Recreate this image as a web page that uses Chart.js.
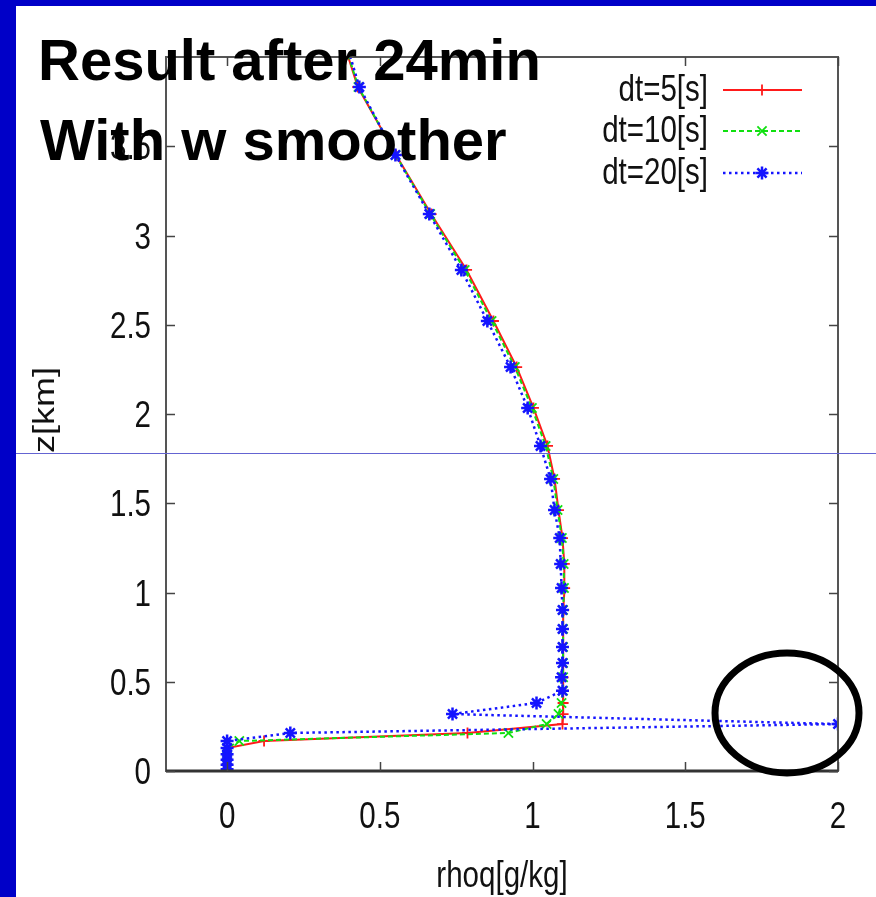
<!DOCTYPE html>
<html>
<head>
<meta charset="utf-8">
<script src="https://cdn.jsdelivr.net/npm/chart.js@4.4.1/dist/chart.umd.min.js"></script>
<style>
    html, body { margin: 0; padding: 0; background: #0000c8; }
    #wrap { width: 876px; height: 897px; }
</style>
</head>
<body>
<div id="wrap"><canvas id="profileChart" width="876" height="897"></canvas></div>
<script>
// model levels (km) and rhoq (g/kg) profiles after 24 min
const zLevels = [0.01, 0.035, 0.063, 0.094, 0.129, 0.168, 0.213, 0.263, 0.319, 0.381,
                 0.45, 0.525, 0.605, 0.695, 0.796, 0.902, 1.025, 1.16, 1.305, 1.462,
                 1.636, 1.821, 2.034, 2.263, 2.521, 2.807, 3.12, 3.451, 3.832, 4.25];
const rhoqDt5 = [0, 0, 0, 0, 0, 0.121, 0.787, 1.098, 1.1, 1.1,
                 1.1, 1.1, 1.1, 1.1, 1.1, 1.102, 1.105, 1.104, 1.098, 1.085,
                 1.072, 1.049, 1.003, 0.948, 0.872, 0.784, 0.668, 0.553, 0.428, 0.35];
const rhoqDt10 = [0, 0, 0, 0, 0, 0.04, 0.921, 1.046, 1.085, 1.095,
                  1.1, 1.1, 1.1, 1.1, 1.1, 1.1, 1.103, 1.102, 1.096, 1.082,
                  1.068, 1.043, 0.998, 0.942, 0.866, 0.778, 0.665, 0.552, 0.43, 0.352];
const rhoqDt20 = [0, 0, 0, 0, 0, 0, 0.207, 2.0, 0.738, 1.013,
                  1.098, 1.095, 1.098, 1.098, 1.098, 1.098, 1.095, 1.092, 1.089, 1.072,
                  1.059, 1.026, 0.984, 0.928, 0.852, 0.767, 0.662, 0.551, 0.433, 0.36];
const seriesLabels = ['dt=5[s]', 'dt=10[s]', 'dt=20[s]'];
const xTicks = [0, 0.5, 1, 1.5, 2];
const yTicks = [0, 0.5, 1, 1.5, 2, 2.5, 3, 3.5];
const xTitle = 'rhoq[g/kg]';
const yTitle = 'z[km]';
const titleLines = ['Result after 24min', 'With w smoother'];

const FONT = "'Liberation Sans', Arial, sans-serif";
const SQUEEZE = 0.82;   // the pasted gnuplot image is squeezed sideways
const toPoints = xs => xs.map((x, i) => ({ x: x, y: zLevels[i] }));

// blue slide behind the pasted plot
const slideBackground = {
    id: 'slideBackground',
    beforeDraw(chart) {
        const ctx = chart.ctx;
        ctx.save();
        ctx.fillStyle = '#0000c8';
        ctx.fillRect(0, 0, chart.width, chart.height);
        ctx.fillStyle = '#ffffff';
        ctx.fillRect(16, 6, chart.width - 16, chart.height - 6);
        ctx.restore();
    }
};

function squeezedText(ctx, text, x, y, align, rotate) {
    ctx.save();
    ctx.translate(x, y);
    ctx.scale(SQUEEZE, 1);
    if (rotate) ctx.rotate(-Math.PI / 2);
    ctx.textAlign = align;
    ctx.fillText(text, 0, 0);
    ctx.restore();
}

// gnuplot style box with inward ticks on all sides, plus tick labels and axis titles
const gnuplotFrame = {
    id: 'gnuplotFrame',
    afterDatasetsDraw(chart) {
        const { ctx, chartArea: a, scales } = chart;
        ctx.save();
        ctx.strokeStyle = '#555';
        ctx.lineWidth = 2;
        ctx.strokeRect(a.left, a.top, a.right - a.left, a.bottom - a.top);
        ctx.strokeStyle = '#333';
        ctx.lineWidth = 3;
        ctx.beginPath();
        ctx.moveTo(a.left, a.bottom);
        ctx.lineTo(a.right, a.bottom);
        ctx.stroke();
        ctx.strokeStyle = '#444';
        ctx.lineWidth = 1.5;
        ctx.beginPath();
        scales.x.ticks.forEach(t => {
            const px = Math.round(scales.x.getPixelForValue(t.value)) + 0.5;
            ctx.moveTo(px, a.bottom); ctx.lineTo(px, a.bottom - 9);
            ctx.moveTo(px, a.top); ctx.lineTo(px, a.top + 9);
        });
        scales.y.ticks.forEach(t => {
            const py = Math.round(scales.y.getPixelForValue(t.value)) + 0.5;
            ctx.moveTo(a.left, py); ctx.lineTo(a.left + 9, py);
            ctx.moveTo(a.right, py); ctx.lineTo(a.right - 9, py);
        });
        ctx.stroke();

        ctx.fillStyle = '#111';
        ctx.font = '36px ' + FONT;
        ctx.textBaseline = 'alphabetic';
        scales.x.ticks.forEach(t => {
            squeezedText(ctx, String(t.value), scales.x.getPixelForValue(t.value), a.bottom + 57, 'center');
        });
        scales.y.ticks.forEach(t => {
            squeezedText(ctx, String(t.value), a.left - 15, scales.y.getPixelForValue(t.value) + 13, 'right');
        });
        ctx.textBaseline = 'middle';
        squeezedText(ctx, xTitle, (a.left + a.right) / 2, 877, 'center');
        squeezedText(ctx, yTitle, 46, 410, 'center', true);
        ctx.restore();
    }
};

function drawMarker(ctx, style, x, y, r) {
    ctx.beginPath();
    if (style === 'cross' || style === 'star') {
        ctx.moveTo(x - r, y); ctx.lineTo(x + r, y);
        ctx.moveTo(x, y - r); ctx.lineTo(x, y + r);
    }
    if (style === 'crossRot' || style === 'star') {
        const d = r * 0.707;
        ctx.moveTo(x - d, y - d); ctx.lineTo(x + d, y + d);
        ctx.moveTo(x - d, y + d); ctx.lineTo(x + d, y - d);
    }
    ctx.stroke();
}

// legend, slide title, annotation ellipse, stray guide line
const overlay = {
    id: 'overlay',
    afterDraw(chart) {
        const ctx = chart.ctx;
        ctx.save();

        const rows = [90, 131, 173];
        chart.data.datasets.forEach((ds, i) => {
            const y = rows[i];
            ctx.fillStyle = '#111';
            ctx.font = '36px ' + FONT;
            ctx.textBaseline = 'middle';
            squeezedText(ctx, ds.label, 708, y + 1, 'right');
            ctx.strokeStyle = ds.borderColor;
            ctx.lineWidth = ds.borderWidth;
            ctx.setLineDash(ds.borderDash || []);
            ctx.beginPath();
            ctx.moveTo(723, y); ctx.lineTo(802, y);
            ctx.stroke();
            ctx.setLineDash([]);
            ctx.lineWidth = ds.pointBorderWidth;
            drawMarker(ctx, ds.pointStyle, 762, y, ds.pointRadius);
        });

        ctx.fillStyle = '#000';
        ctx.font = 'bold 58px ' + FONT;
        ctx.textAlign = 'left';
        ctx.textBaseline = 'alphabetic';
        ctx.fillText(titleLines[0], 38, 80);
        ctx.fillText(titleLines[1], 40, 160);

        ctx.strokeStyle = '#000';
        ctx.lineWidth = 7;
        ctx.beginPath();
        ctx.ellipse(787, 713, 72, 60, 0, 0, Math.PI * 2);
        ctx.stroke();

        ctx.strokeStyle = '#6464d2';
        ctx.lineWidth = 1;
        ctx.beginPath();
        ctx.moveTo(16, 453.5); ctx.lineTo(876, 453.5);
        ctx.stroke();
        ctx.restore();
    }
};

new Chart(document.getElementById('profileChart'), {
    type: 'scatter',
    data: {
        datasets: [
            {
                label: seriesLabels[0],
                data: toPoints(rhoqDt5),
                showLine: true,
                borderColor: '#ff1a1a',
                backgroundColor: '#ff1a1a',
                borderWidth: 2,
                pointStyle: 'cross',
                pointRadius: 5.5,
                pointBorderWidth: 1.8,
                order: 3
            },
            {
                label: seriesLabels[1],
                data: toPoints(rhoqDt10),
                showLine: true,
                borderColor: '#10e010',
                backgroundColor: '#10e010',
                borderWidth: 2,
                borderDash: [5, 3],
                pointStyle: 'crossRot',
                pointRadius: 6.5,
                pointBorderWidth: 1.8,
                order: 2
            },
            {
                label: seriesLabels[2],
                data: toPoints(rhoqDt20),
                showLine: true,
                borderColor: '#1414ff',
                backgroundColor: '#1414ff',
                borderWidth: 2.5,
                borderDash: [2.5, 3.5],
                pointStyle: 'star',
                pointRadius: 6.5,
                pointBorderWidth: 2.5,
                order: 1
            }
        ]
    },
    options: {
        responsive: false,
        animation: false,
        layout: { padding: { top: 57, right: 38, bottom: 0, left: 0 } },
        plugins: { legend: { display: false }, tooltip: { enabled: false } },
        scales: {
            x: {
                type: 'linear',
                min: -0.2,
                max: 2,
                afterBuildTicks: s => { s.ticks = xTicks.map(v => ({ value: v })); },
                afterFit: s => { s.height = 126; },
                grid: { display: false, drawTicks: false },
                border: { display: false },
                ticks: { display: false }
            },
            y: {
                type: 'linear',
                min: 0,
                max: 4,
                afterBuildTicks: s => { s.ticks = yTicks.map(v => ({ value: v })); },
                afterFit: s => { s.width = 166; },
                grid: { display: false, drawTicks: false },
                border: { display: false },
                ticks: { display: false }
            }
        }
    },
    plugins: [slideBackground, gnuplotFrame, overlay]
});
</script>
</body>
</html>
